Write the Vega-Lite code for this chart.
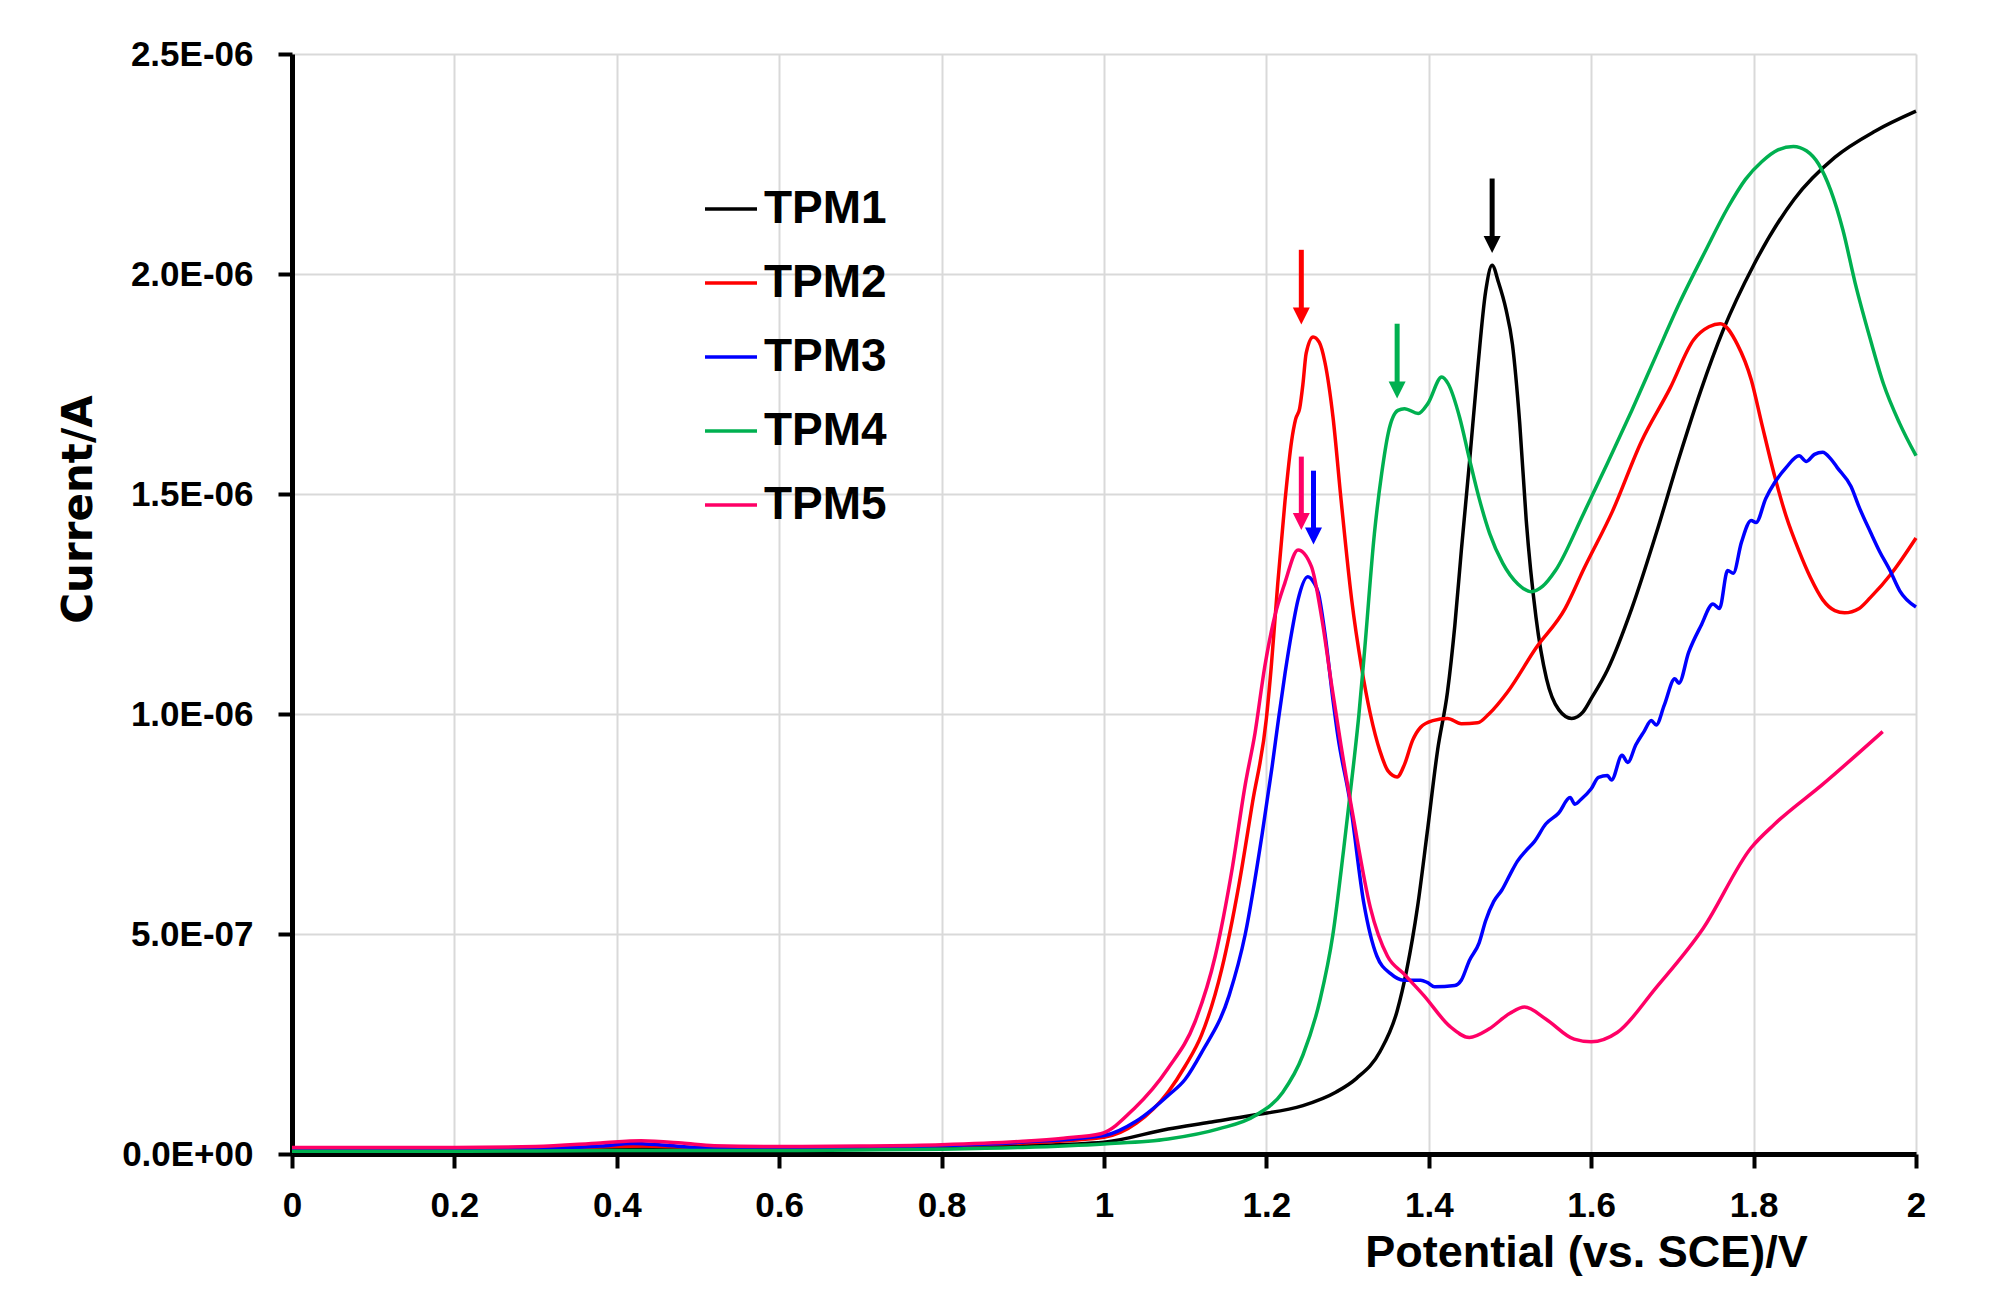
{
  "$schema": "https://vega.github.io/schema/vega-lite/v6.json",
  "width": 1624,
  "height": 1100,
  "autosize": {"type": "none"},
  "padding": {"left": 292, "top": 54, "right": 81, "bottom": 161},
  "background": "white",
  "config": {
    "view": {"stroke": null},
    "axis": {
      "grid": true, "gridColor": "#d9d9d9", "gridWidth": 2,
      "domainColor": "black", "domainWidth": 5,
      "tickColor": "black", "tickWidth": 4, "tickSize": 14,
      "labelColor": "black", "labelFont": "Liberation Sans", "labelFontWeight": "bold", "labelFontSize": 35,
      "labelFlush": false, "labelOverlap": false, "titleColor": "black"
    },
    "axisX": {
      "labelPadding": 20,
      "titleFont": "Liberation Sans", "titleFontWeight": "bold", "titleFontSize": 45,
      "titleX": 1294, "titleY": 112, "titleBaseline": "alphabetic", "titleAlign": "center"
    },
    "axisY": {
      "labelPadding": 25,
      "titleFont": "DejaVu Sans", "titleFontWeight": "bold", "titleFontSize": 42,
      "titleX": -201, "titleY": 455, "titleAngle": 270, "titleBaseline": "alphabetic", "titleAlign": "center"
    }
  },
  "datasets": {
    "curves": [
      {"series": "TPM1", "potential": 0, "current": 0.008e-6},
      {"series": "TPM1", "potential": 0.1, "current": 0.008e-6},
      {"series": "TPM1", "potential": 0.2, "current": 0.008e-6},
      {"series": "TPM1", "potential": 0.3, "current": 0.009e-6},
      {"series": "TPM1", "potential": 0.4, "current": 0.011e-6},
      {"series": "TPM1", "potential": 0.45, "current": 0.012e-6},
      {"series": "TPM1", "potential": 0.5, "current": 0.011e-6},
      {"series": "TPM1", "potential": 0.6, "current": 0.011e-6},
      {"series": "TPM1", "potential": 0.7, "current": 0.012e-6},
      {"series": "TPM1", "potential": 0.8, "current": 0.015e-6},
      {"series": "TPM1", "potential": 0.9, "current": 0.019e-6},
      {"series": "TPM1", "potential": 1.0, "current": 0.027e-6},
      {"series": "TPM1", "potential": 1.079, "current": 0.057e-6},
      {"series": "TPM1", "potential": 1.13, "current": 0.072e-6},
      {"series": "TPM1", "potential": 1.183, "current": 0.088e-6},
      {"series": "TPM1", "potential": 1.245, "current": 0.11e-6},
      {"series": "TPM1", "potential": 1.286, "current": 0.141e-6},
      {"series": "TPM1", "potential": 1.311, "current": 0.172e-6},
      {"series": "TPM1", "potential": 1.34, "current": 0.233e-6},
      {"series": "TPM1", "potential": 1.361, "current": 0.325e-6},
      {"series": "TPM1", "potential": 1.373, "current": 0.42e-6},
      {"series": "TPM1", "potential": 1.386, "current": 0.56e-6},
      {"series": "TPM1", "potential": 1.398, "current": 0.73e-6},
      {"series": "TPM1", "potential": 1.411, "current": 0.92e-6},
      {"series": "TPM1", "potential": 1.423, "current": 1.05e-6},
      {"series": "TPM1", "potential": 1.432, "current": 1.2e-6},
      {"series": "TPM1", "potential": 1.44, "current": 1.37e-6},
      {"series": "TPM1", "potential": 1.45, "current": 1.57e-6},
      {"series": "TPM1", "potential": 1.46, "current": 1.78e-6},
      {"series": "TPM1", "potential": 1.47, "current": 1.96e-6},
      {"series": "TPM1", "potential": 1.478, "current": 2.02e-6},
      {"series": "TPM1", "potential": 1.486, "current": 1.98e-6},
      {"series": "TPM1", "potential": 1.495, "current": 1.92e-6},
      {"series": "TPM1", "potential": 1.503, "current": 1.84e-6},
      {"series": "TPM1", "potential": 1.512, "current": 1.66e-6},
      {"series": "TPM1", "potential": 1.52, "current": 1.44e-6},
      {"series": "TPM1", "potential": 1.532, "current": 1.22e-6},
      {"series": "TPM1", "potential": 1.545, "current": 1.08e-6},
      {"series": "TPM1", "potential": 1.56, "current": 1.01e-6},
      {"series": "TPM1", "potential": 1.576, "current": 0.99e-6},
      {"series": "TPM1", "potential": 1.59, "current": 1.005e-6},
      {"series": "TPM1", "potential": 1.6, "current": 1.035e-6},
      {"series": "TPM1", "potential": 1.62, "current": 1.1e-6},
      {"series": "TPM1", "potential": 1.65, "current": 1.24e-6},
      {"series": "TPM1", "potential": 1.68, "current": 1.41e-6},
      {"series": "TPM1", "potential": 1.709, "current": 1.587e-6},
      {"series": "TPM1", "potential": 1.735, "current": 1.735e-6},
      {"series": "TPM1", "potential": 1.762, "current": 1.87e-6},
      {"series": "TPM1", "potential": 1.8, "current": 2.02e-6},
      {"series": "TPM1", "potential": 1.85, "current": 2.17e-6},
      {"series": "TPM1", "potential": 1.9, "current": 2.265e-6},
      {"series": "TPM1", "potential": 1.95, "current": 2.325e-6},
      {"series": "TPM1", "potential": 2.0, "current": 2.37e-6},

      {"series": "TPM2", "potential": 0, "current": 0.012e-6},
      {"series": "TPM2", "potential": 0.1, "current": 0.012e-6},
      {"series": "TPM2", "potential": 0.2, "current": 0.012e-6},
      {"series": "TPM2", "potential": 0.3, "current": 0.013e-6},
      {"series": "TPM2", "potential": 0.38, "current": 0.016e-6},
      {"series": "TPM2", "potential": 0.43, "current": 0.018e-6},
      {"series": "TPM2", "potential": 0.5, "current": 0.015e-6},
      {"series": "TPM2", "potential": 0.6, "current": 0.015e-6},
      {"series": "TPM2", "potential": 0.7, "current": 0.016e-6},
      {"series": "TPM2", "potential": 0.8, "current": 0.019e-6},
      {"series": "TPM2", "potential": 0.9, "current": 0.025e-6},
      {"series": "TPM2", "potential": 1.0, "current": 0.038e-6},
      {"series": "TPM2", "potential": 1.04, "current": 0.07e-6},
      {"series": "TPM2", "potential": 1.079, "current": 0.141e-6},
      {"series": "TPM2", "potential": 1.1, "current": 0.2e-6},
      {"series": "TPM2", "potential": 1.12, "current": 0.27e-6},
      {"series": "TPM2", "potential": 1.145, "current": 0.42e-6},
      {"series": "TPM2", "potential": 1.166, "current": 0.61e-6},
      {"series": "TPM2", "potential": 1.183, "current": 0.8e-6},
      {"series": "TPM2", "potential": 1.2, "current": 0.99e-6},
      {"series": "TPM2", "potential": 1.206, "current": 1.108e-6},
      {"series": "TPM2", "potential": 1.214, "current": 1.297e-6},
      {"series": "TPM2", "potential": 1.223, "current": 1.486e-6},
      {"series": "TPM2", "potential": 1.231, "current": 1.62e-6},
      {"series": "TPM2", "potential": 1.236, "current": 1.67e-6},
      {"series": "TPM2", "potential": 1.241, "current": 1.695e-6},
      {"series": "TPM2", "potential": 1.245, "current": 1.75e-6},
      {"series": "TPM2", "potential": 1.249, "current": 1.82e-6},
      {"series": "TPM2", "potential": 1.2575, "current": 1.857e-6},
      {"series": "TPM2", "potential": 1.265, "current": 1.845e-6},
      {"series": "TPM2", "potential": 1.272, "current": 1.8e-6},
      {"series": "TPM2", "potential": 1.282, "current": 1.675e-6},
      {"series": "TPM2", "potential": 1.292, "current": 1.486e-6},
      {"series": "TPM2", "potential": 1.305, "current": 1.26e-6},
      {"series": "TPM2", "potential": 1.317, "current": 1.108e-6},
      {"series": "TPM2", "potential": 1.328, "current": 1.0e-6},
      {"series": "TPM2", "potential": 1.34, "current": 0.915e-6},
      {"series": "TPM2", "potential": 1.35, "current": 0.87e-6},
      {"series": "TPM2", "potential": 1.361, "current": 0.857e-6},
      {"series": "TPM2", "potential": 1.37, "current": 0.885e-6},
      {"series": "TPM2", "potential": 1.38, "current": 0.94e-6},
      {"series": "TPM2", "potential": 1.39, "current": 0.97e-6},
      {"series": "TPM2", "potential": 1.405, "current": 0.985e-6},
      {"series": "TPM2", "potential": 1.423, "current": 0.99e-6},
      {"series": "TPM2", "potential": 1.44, "current": 0.978e-6},
      {"series": "TPM2", "potential": 1.46, "current": 0.98e-6},
      {"series": "TPM2", "potential": 1.474, "current": 1.0e-6},
      {"series": "TPM2", "potential": 1.497, "current": 1.05e-6},
      {"series": "TPM2", "potential": 1.532, "current": 1.15e-6},
      {"series": "TPM2", "potential": 1.568, "current": 1.24e-6},
      {"series": "TPM2", "potential": 1.591, "current": 1.33e-6},
      {"series": "TPM2", "potential": 1.626, "current": 1.46e-6},
      {"series": "TPM2", "potential": 1.662, "current": 1.62e-6},
      {"series": "TPM2", "potential": 1.697, "current": 1.74e-6},
      {"series": "TPM2", "potential": 1.726, "current": 1.85e-6},
      {"series": "TPM2", "potential": 1.745, "current": 1.88e-6},
      {"series": "TPM2", "potential": 1.759, "current": 1.887e-6},
      {"series": "TPM2", "potential": 1.78, "current": 1.84e-6},
      {"series": "TPM2", "potential": 1.797, "current": 1.76e-6},
      {"series": "TPM2", "potential": 1.81, "current": 1.66e-6},
      {"series": "TPM2", "potential": 1.826, "current": 1.54e-6},
      {"series": "TPM2", "potential": 1.84, "current": 1.45e-6},
      {"series": "TPM2", "potential": 1.856, "current": 1.37e-6},
      {"series": "TPM2", "potential": 1.87, "current": 1.31e-6},
      {"series": "TPM2", "potential": 1.885, "current": 1.26e-6},
      {"series": "TPM2", "potential": 1.9, "current": 1.235e-6},
      {"series": "TPM2", "potential": 1.912, "current": 1.23e-6},
      {"series": "TPM2", "potential": 1.93, "current": 1.24e-6},
      {"series": "TPM2", "potential": 1.944, "current": 1.265e-6},
      {"series": "TPM2", "potential": 1.97, "current": 1.32e-6},
      {"series": "TPM2", "potential": 2.0, "current": 1.4e-6},

      {"series": "TPM3", "potential": 0, "current": 0.01e-6},
      {"series": "TPM3", "potential": 0.1, "current": 0.01e-6},
      {"series": "TPM3", "potential": 0.2, "current": 0.011e-6},
      {"series": "TPM3", "potential": 0.3, "current": 0.012e-6},
      {"series": "TPM3", "potential": 0.38, "current": 0.018e-6},
      {"series": "TPM3", "potential": 0.42, "current": 0.024e-6},
      {"series": "TPM3", "potential": 0.46, "current": 0.02e-6},
      {"series": "TPM3", "potential": 0.5, "current": 0.015e-6},
      {"series": "TPM3", "potential": 0.6, "current": 0.014e-6},
      {"series": "TPM3", "potential": 0.7, "current": 0.016e-6},
      {"series": "TPM3", "potential": 0.8, "current": 0.019e-6},
      {"series": "TPM3", "potential": 0.9, "current": 0.027e-6},
      {"series": "TPM3", "potential": 1.0, "current": 0.042e-6},
      {"series": "TPM3", "potential": 1.04, "current": 0.075e-6},
      {"series": "TPM3", "potential": 1.079, "current": 0.133e-6},
      {"series": "TPM3", "potential": 1.1, "current": 0.17e-6},
      {"series": "TPM3", "potential": 1.12, "current": 0.23e-6},
      {"series": "TPM3", "potential": 1.154, "current": 0.36e-6},
      {"series": "TPM3", "potential": 1.174, "current": 0.5e-6},
      {"series": "TPM3", "potential": 1.195, "current": 0.73e-6},
      {"series": "TPM3", "potential": 1.207, "current": 0.88e-6},
      {"series": "TPM3", "potential": 1.215, "current": 0.99e-6},
      {"series": "TPM3", "potential": 1.223, "current": 1.093e-6},
      {"series": "TPM3", "potential": 1.231, "current": 1.184e-6},
      {"series": "TPM3", "potential": 1.239, "current": 1.26e-6},
      {"series": "TPM3", "potential": 1.251, "current": 1.312e-6},
      {"series": "TPM3", "potential": 1.258, "current": 1.3e-6},
      {"series": "TPM3", "potential": 1.264, "current": 1.275e-6},
      {"series": "TPM3", "potential": 1.272, "current": 1.184e-6},
      {"series": "TPM3", "potential": 1.282, "current": 1.032e-6},
      {"series": "TPM3", "potential": 1.288, "current": 0.95e-6},
      {"series": "TPM3", "potential": 1.303, "current": 0.8e-6},
      {"series": "TPM3", "potential": 1.32, "current": 0.57e-6},
      {"series": "TPM3", "potential": 1.336, "current": 0.45e-6},
      {"series": "TPM3", "potential": 1.353, "current": 0.41e-6},
      {"series": "TPM3", "potential": 1.369, "current": 0.395e-6},
      {"series": "TPM3", "potential": 1.39, "current": 0.395e-6},
      {"series": "TPM3", "potential": 1.398, "current": 0.39e-6},
      {"series": "TPM3", "potential": 1.407, "current": 0.38e-6},
      {"series": "TPM3", "potential": 1.432, "current": 0.383e-6},
      {"series": "TPM3", "potential": 1.44, "current": 0.395e-6},
      {"series": "TPM3", "potential": 1.45, "current": 0.44e-6},
      {"series": "TPM3", "potential": 1.462, "current": 0.48e-6},
      {"series": "TPM3", "potential": 1.47, "current": 0.53e-6},
      {"series": "TPM3", "potential": 1.48, "current": 0.574e-6},
      {"series": "TPM3", "potential": 1.49, "current": 0.6e-6},
      {"series": "TPM3", "potential": 1.5, "current": 0.635e-6},
      {"series": "TPM3", "potential": 1.509, "current": 0.665e-6},
      {"series": "TPM3", "potential": 1.52, "current": 0.69e-6},
      {"series": "TPM3", "potential": 1.53, "current": 0.71e-6},
      {"series": "TPM3", "potential": 1.544, "current": 0.75e-6},
      {"series": "TPM3", "potential": 1.56, "current": 0.775e-6},
      {"series": "TPM3", "potential": 1.574, "current": 0.81e-6},
      {"series": "TPM3", "potential": 1.58, "current": 0.795e-6},
      {"series": "TPM3", "potential": 1.587, "current": 0.805e-6},
      {"series": "TPM3", "potential": 1.6, "current": 0.83e-6},
      {"series": "TPM3", "potential": 1.609, "current": 0.856e-6},
      {"series": "TPM3", "potential": 1.62, "current": 0.86e-6},
      {"series": "TPM3", "potential": 1.625, "current": 0.85e-6},
      {"series": "TPM3", "potential": 1.638, "current": 0.906e-6},
      {"series": "TPM3", "potential": 1.645, "current": 0.89e-6},
      {"series": "TPM3", "potential": 1.655, "current": 0.93e-6},
      {"series": "TPM3", "potential": 1.665, "current": 0.96e-6},
      {"series": "TPM3", "potential": 1.674, "current": 0.985e-6},
      {"series": "TPM3", "potential": 1.68, "current": 0.975e-6},
      {"series": "TPM3", "potential": 1.69, "current": 1.02e-6},
      {"series": "TPM3", "potential": 1.703, "current": 1.08e-6},
      {"series": "TPM3", "potential": 1.708, "current": 1.07e-6},
      {"series": "TPM3", "potential": 1.72, "current": 1.14e-6},
      {"series": "TPM3", "potential": 1.735, "current": 1.2e-6},
      {"series": "TPM3", "potential": 1.75, "current": 1.25e-6},
      {"series": "TPM3", "potential": 1.758, "current": 1.24e-6},
      {"series": "TPM3", "potential": 1.768, "current": 1.326e-6},
      {"series": "TPM3", "potential": 1.775, "current": 1.32e-6},
      {"series": "TPM3", "potential": 1.785, "current": 1.39e-6},
      {"series": "TPM3", "potential": 1.797, "current": 1.44e-6},
      {"series": "TPM3", "potential": 1.803, "current": 1.435e-6},
      {"series": "TPM3", "potential": 1.815, "current": 1.49e-6},
      {"series": "TPM3", "potential": 1.826, "current": 1.526e-6},
      {"series": "TPM3", "potential": 1.84, "current": 1.56e-6},
      {"series": "TPM3", "potential": 1.856, "current": 1.587e-6},
      {"series": "TPM3", "potential": 1.865, "current": 1.574e-6},
      {"series": "TPM3", "potential": 1.875, "current": 1.59e-6},
      {"series": "TPM3", "potential": 1.885, "current": 1.595e-6},
      {"series": "TPM3", "potential": 1.895, "current": 1.58e-6},
      {"series": "TPM3", "potential": 1.903, "current": 1.56e-6},
      {"series": "TPM3", "potential": 1.92, "current": 1.517e-6},
      {"series": "TPM3", "potential": 1.93, "current": 1.47e-6},
      {"series": "TPM3", "potential": 1.944, "current": 1.413e-6},
      {"series": "TPM3", "potential": 1.955, "current": 1.37e-6},
      {"series": "TPM3", "potential": 1.968, "current": 1.326e-6},
      {"series": "TPM3", "potential": 1.98, "current": 1.28e-6},
      {"series": "TPM3", "potential": 2.0, "current": 1.243e-6},

      {"series": "TPM4", "potential": 0, "current": 0.006e-6},
      {"series": "TPM4", "potential": 0.1, "current": 0.006e-6},
      {"series": "TPM4", "potential": 0.2, "current": 0.006e-6},
      {"series": "TPM4", "potential": 0.3, "current": 0.007e-6},
      {"series": "TPM4", "potential": 0.4, "current": 0.008e-6},
      {"series": "TPM4", "potential": 0.5, "current": 0.008e-6},
      {"series": "TPM4", "potential": 0.6, "current": 0.008e-6},
      {"series": "TPM4", "potential": 0.7, "current": 0.009e-6},
      {"series": "TPM4", "potential": 0.8, "current": 0.011e-6},
      {"series": "TPM4", "potential": 0.9, "current": 0.015e-6},
      {"series": "TPM4", "potential": 1.0, "current": 0.023e-6},
      {"series": "TPM4", "potential": 1.079, "current": 0.034e-6},
      {"series": "TPM4", "potential": 1.141, "current": 0.057e-6},
      {"series": "TPM4", "potential": 1.187, "current": 0.088e-6},
      {"series": "TPM4", "potential": 1.22, "current": 0.14e-6},
      {"series": "TPM4", "potential": 1.245, "current": 0.225e-6},
      {"series": "TPM4", "potential": 1.266, "current": 0.35e-6},
      {"series": "TPM4", "potential": 1.282, "current": 0.5e-6},
      {"series": "TPM4", "potential": 1.295, "current": 0.69e-6},
      {"series": "TPM4", "potential": 1.307, "current": 0.88e-6},
      {"series": "TPM4", "potential": 1.314, "current": 1.0e-6},
      {"series": "TPM4", "potential": 1.321, "current": 1.146e-6},
      {"series": "TPM4", "potential": 1.333, "current": 1.41e-6},
      {"series": "TPM4", "potential": 1.342, "current": 1.547e-6},
      {"series": "TPM4", "potential": 1.35, "current": 1.638e-6},
      {"series": "TPM4", "potential": 1.362, "current": 1.69e-6},
      {"series": "TPM4", "potential": 1.37, "current": 1.694e-6},
      {"series": "TPM4", "potential": 1.387, "current": 1.683e-6},
      {"series": "TPM4", "potential": 1.399, "current": 1.706e-6},
      {"series": "TPM4", "potential": 1.416, "current": 1.766e-6},
      {"series": "TPM4", "potential": 1.424, "current": 1.75e-6},
      {"series": "TPM4", "potential": 1.438, "current": 1.674e-6},
      {"series": "TPM4", "potential": 1.45, "current": 1.58e-6},
      {"series": "TPM4", "potential": 1.462, "current": 1.49e-6},
      {"series": "TPM4", "potential": 1.475, "current": 1.41e-6},
      {"series": "TPM4", "potential": 1.491, "current": 1.343e-6},
      {"series": "TPM4", "potential": 1.51, "current": 1.295e-6},
      {"series": "TPM4", "potential": 1.526, "current": 1.278e-6},
      {"series": "TPM4", "potential": 1.54, "current": 1.29e-6},
      {"series": "TPM4", "potential": 1.556, "current": 1.326e-6},
      {"series": "TPM4", "potential": 1.591, "current": 1.457e-6},
      {"series": "TPM4", "potential": 1.62, "current": 1.57e-6},
      {"series": "TPM4", "potential": 1.65, "current": 1.69e-6},
      {"series": "TPM4", "potential": 1.68, "current": 1.815e-6},
      {"series": "TPM4", "potential": 1.709, "current": 1.935e-6},
      {"series": "TPM4", "potential": 1.74, "current": 2.05e-6},
      {"series": "TPM4", "potential": 1.768, "current": 2.15e-6},
      {"series": "TPM4", "potential": 1.79, "current": 2.215e-6},
      {"series": "TPM4", "potential": 1.81, "current": 2.255e-6},
      {"series": "TPM4", "potential": 1.83, "current": 2.282e-6},
      {"series": "TPM4", "potential": 1.849, "current": 2.29e-6},
      {"series": "TPM4", "potential": 1.865, "current": 2.28e-6},
      {"series": "TPM4", "potential": 1.88, "current": 2.25e-6},
      {"series": "TPM4", "potential": 1.895, "current": 2.19e-6},
      {"series": "TPM4", "potential": 1.91, "current": 2.1e-6},
      {"series": "TPM4", "potential": 1.925, "current": 1.98e-6},
      {"series": "TPM4", "potential": 1.944, "current": 1.85e-6},
      {"series": "TPM4", "potential": 1.96, "current": 1.75e-6},
      {"series": "TPM4", "potential": 1.98, "current": 1.66e-6},
      {"series": "TPM4", "potential": 2.0, "current": 1.587e-6},

      {"series": "TPM5", "potential": 0, "current": 0.015e-6},
      {"series": "TPM5", "potential": 0.1, "current": 0.015e-6},
      {"series": "TPM5", "potential": 0.2, "current": 0.015e-6},
      {"series": "TPM5", "potential": 0.3, "current": 0.017e-6},
      {"series": "TPM5", "potential": 0.38, "current": 0.025e-6},
      {"series": "TPM5", "potential": 0.43, "current": 0.03e-6},
      {"series": "TPM5", "potential": 0.48, "current": 0.025e-6},
      {"series": "TPM5", "potential": 0.52, "current": 0.019e-6},
      {"series": "TPM5", "potential": 0.6, "current": 0.017e-6},
      {"series": "TPM5", "potential": 0.7, "current": 0.018e-6},
      {"series": "TPM5", "potential": 0.8, "current": 0.021e-6},
      {"series": "TPM5", "potential": 0.9, "current": 0.029e-6},
      {"series": "TPM5", "potential": 0.95, "current": 0.036e-6},
      {"series": "TPM5", "potential": 0.996, "current": 0.046e-6},
      {"series": "TPM5", "potential": 1.037, "current": 0.103e-6},
      {"series": "TPM5", "potential": 1.079, "current": 0.195e-6},
      {"series": "TPM5", "potential": 1.112, "current": 0.3e-6},
      {"series": "TPM5", "potential": 1.137, "current": 0.45e-6},
      {"series": "TPM5", "potential": 1.158, "current": 0.65e-6},
      {"series": "TPM5", "potential": 1.174, "current": 0.84e-6},
      {"series": "TPM5", "potential": 1.186, "current": 0.957e-6},
      {"series": "TPM5", "potential": 1.198, "current": 1.108e-6},
      {"series": "TPM5", "potential": 1.21, "current": 1.22e-6},
      {"series": "TPM5", "potential": 1.2226, "current": 1.297e-6},
      {"series": "TPM5", "potential": 1.239, "current": 1.373e-6},
      {"series": "TPM5", "potential": 1.2555, "current": 1.335e-6},
      {"series": "TPM5", "potential": 1.268, "current": 1.22e-6},
      {"series": "TPM5", "potential": 1.28, "current": 1.07e-6},
      {"series": "TPM5", "potential": 1.292, "current": 0.927e-6},
      {"series": "TPM5", "potential": 1.307, "current": 0.765e-6},
      {"series": "TPM5", "potential": 1.328, "current": 0.56e-6},
      {"series": "TPM5", "potential": 1.349, "current": 0.45e-6},
      {"series": "TPM5", "potential": 1.369, "current": 0.41e-6},
      {"series": "TPM5", "potential": 1.394, "current": 0.36e-6},
      {"series": "TPM5", "potential": 1.426, "current": 0.29e-6},
      {"series": "TPM5", "potential": 1.45, "current": 0.265e-6},
      {"series": "TPM5", "potential": 1.474, "current": 0.284e-6},
      {"series": "TPM5", "potential": 1.5, "current": 0.32e-6},
      {"series": "TPM5", "potential": 1.518, "current": 0.334e-6},
      {"series": "TPM5", "potential": 1.544, "current": 0.307e-6},
      {"series": "TPM5", "potential": 1.579, "current": 0.261e-6},
      {"series": "TPM5", "potential": 1.6, "current": 0.255e-6},
      {"series": "TPM5", "potential": 1.632, "current": 0.276e-6},
      {"series": "TPM5", "potential": 1.679, "current": 0.376e-6},
      {"series": "TPM5", "potential": 1.738, "current": 0.513e-6},
      {"series": "TPM5", "potential": 1.797, "current": 0.696e-6},
      {"series": "TPM5", "potential": 1.826, "current": 0.75e-6},
      {"series": "TPM5", "potential": 1.885, "current": 0.84e-6},
      {"series": "TPM5", "potential": 1.959, "current": 0.96e-6}
    ],
    "arrows": [
      {"series": "TPM1", "potential": 1.478, "top": 2.217e-6, "tip": 2.048e-6},
      {"series": "TPM2", "potential": 1.243, "top": 2.055e-6, "tip": 1.885e-6},
      {"series": "TPM4", "potential": 1.361, "top": 1.887e-6, "tip": 1.717e-6},
      {"series": "TPM5", "potential": 1.243, "top": 1.585e-6, "tip": 1.418e-6},
      {"series": "TPM3", "potential": 1.258, "top": 1.553e-6, "tip": 1.385e-6}
    ]
  },
  "layer": [
    {
      "data": {"name": "curves"},
      "mark": {"type": "line", "strokeWidth": 3.5, "interpolate": "monotone"},
      "encoding": {
        "x": {
          "field": "potential", "type": "quantitative", "title": "Potential (vs. SCE)/V",
          "scale": {"domain": [0, 2], "nice": false},
          "axis": {"values": [0, 0.2, 0.4, 0.6, 0.8, 1, 1.2, 1.4, 1.6, 1.8, 2], "format": "~g"}
        },
        "y": {
          "field": "current", "type": "quantitative", "title": "Current/A",
          "scale": {"domain": [0, 2.5e-6], "nice": false},
          "axis": {
            "values": [0, 5e-7, 1e-6, 1.5e-6, 2e-6, 2.5e-6],
            "labelExpr": "replace(replace(upper(format(datum.value, '.1e')), 'E-', 'E-0'), 'E+', 'E+0')"
          }
        },
        "color": {
          "field": "series", "type": "nominal",
          "scale": {"domain": ["TPM1", "TPM2", "TPM3", "TPM4", "TPM5"], "range": ["#000000", "#ff0000", "#0000ff", "#00b050", "#ff0066"]},
          "legend": {
            "orient": "none", "legendX": 411, "legendY": 127, "title": null,
            "symbolType": "stroke", "symbolSize": 2704, "symbolStrokeWidth": 3.5,
            "labelFont": "Liberation Sans", "labelFontWeight": "bold", "labelFontSize": 46, "labelColor": "black",
            "labelOffset": 5, "rowPadding": 23, "padding": 0, "labelLimit": 0
          }
        }
      }
    },
    {
      "data": {"name": "arrows"},
      "mark": {"type": "rule", "strokeWidth": 5, "y2Offset": -8},
      "encoding": {
        "x": {"field": "potential", "type": "quantitative", "title": "Potential (vs. SCE)/V"},
        "y": {"field": "top", "type": "quantitative", "title": "Current/A"},
        "y2": {"field": "tip"},
        "color": {
          "field": "series", "type": "nominal",
          "scale": {"domain": ["TPM1", "TPM2", "TPM3", "TPM4", "TPM5"], "range": ["#000000", "#ff0000", "#0000ff", "#00b050", "#ff0066"]},
          "legend": null
        }
      }
    },
    {
      "data": {"name": "arrows"},
      "mark": {"type": "point", "shape": "M-1,-2L1,-2L0,0Z", "size": 289, "filled": true, "opacity": 1, "strokeWidth": 0},
      "encoding": {
        "x": {"field": "potential", "type": "quantitative", "title": "Potential (vs. SCE)/V"},
        "y": {"field": "tip", "type": "quantitative", "title": "Current/A"},
        "color": {
          "field": "series", "type": "nominal",
          "scale": {"domain": ["TPM1", "TPM2", "TPM3", "TPM4", "TPM5"], "range": ["#000000", "#ff0000", "#0000ff", "#00b050", "#ff0066"]},
          "legend": null
        }
      }
    }
  ],
  "resolve": {"scale": {"color": "independent"}}
}
